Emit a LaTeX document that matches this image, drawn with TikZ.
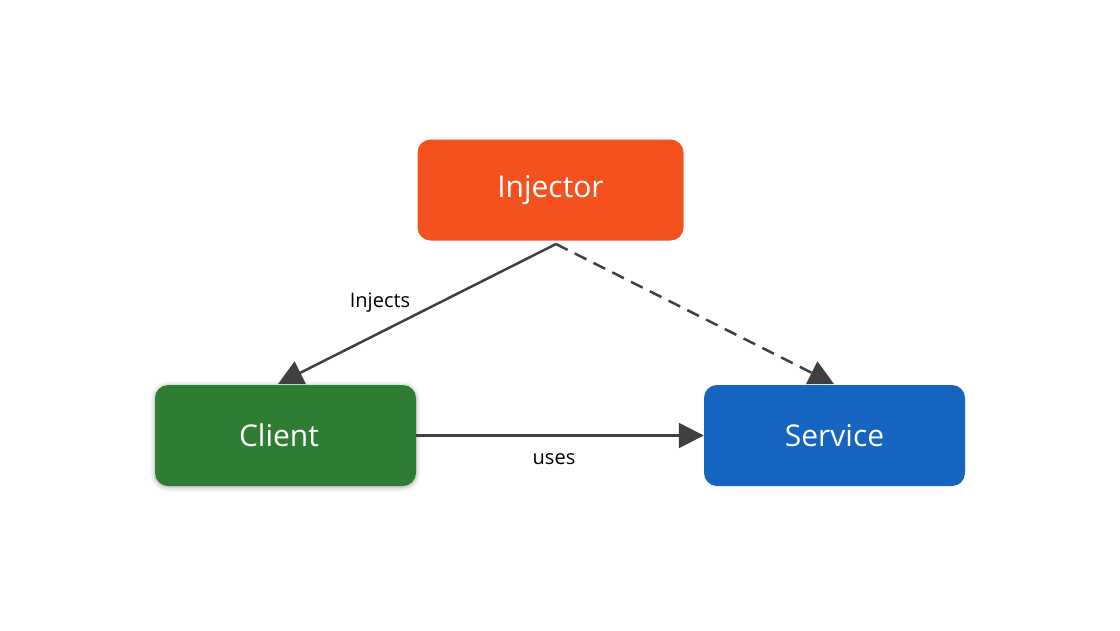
\documentclass[tikz,border=0pt]{standalone}
\usepackage{fontspec}
\setmainfont{Open Sans}
\usetikzlibrary{arrows.meta,shadows.blur}
\definecolor{injc}{HTML}{F4511E}
\definecolor{clic}{HTML}{2E7D32}
\definecolor{serc}{HTML}{1565C0}
\definecolor{linec}{HTML}{404040}
\tikzset{
  box/.style={rectangle, rounded corners=13pt, minimum width=266pt, minimum height=101pt, text=white, font=\fontsize{30}{36}\selectfont, inner sep=0pt},
  conn/.style={draw=linec, line width=2.5pt, -{Triangle[length=25pt,width=25pt]}},
  lbl/.style={font=\fontsize{20}{24}\selectfont, text=black}
}
\begin{document}
\begin{tikzpicture}[x=1pt,y=-1pt]
\useasboundingbox (0,0) rectangle (1120,630);
\node[box, fill=injc] (inj) at (550.5,190) {Injector};
\node[box, fill=clic, minimum width=261pt, blur shadow={shadow xshift=0pt, shadow yshift=-1pt, shadow blur radius=5pt, shadow opacity=35}] (cli) at (285.5,435.5) {\hspace*{-13pt}Client};
\node[box, fill=serc, minimum width=261pt] (ser) at (834.5,435.5) {Service};
\coordinate (src) at (556,244);
\coordinate (ct) at (278,384);
\coordinate (st) at (834,384);
\draw[conn] (src) -- (ct);
\draw[conn, dash pattern=on 13pt off 8pt] (src) -- (st);
\draw[conn] (cli.east) -- (ser.west);
\node[lbl] (l1) at (380,303) {Injects};
\node[lbl] (l2) at (554,459) {uses};
\end{tikzpicture}
\end{document}
